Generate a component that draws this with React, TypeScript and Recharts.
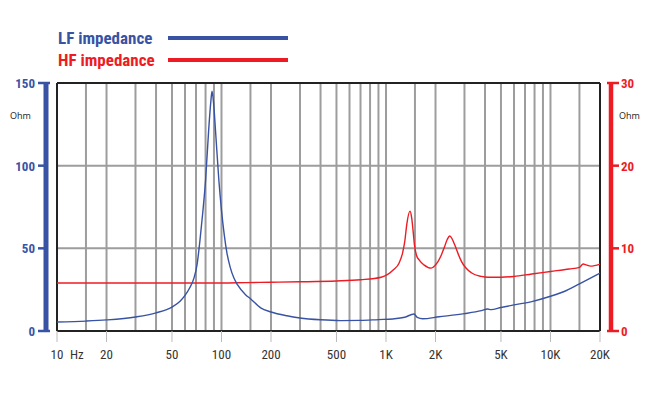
import React from "react";
import {
    ComposedChart,
    Line,
    XAxis,
    YAxis,
    ReferenceLine,
} from "recharts";

const BLUE = "#3953a4";
const RED = "#ed1c24";
const GRID = "#9d9d9d";
const FONT = "'Liberation Sans Narrow', 'Roboto Condensed', Roboto, sans-serif";

// LF impedance, read against the left axis (Ohm)
const lfFreq = [
    10, 15, 20, 30, 40, 50, 56, 60, 64, 68, 71, 74, 77, 80, 83.5, 86, 87.6, 89.5, 92, 96.4, 100,
    104, 108, 113, 119, 125, 140, 150, 173, 200, 250, 300, 400, 530, 700, 900, 1100, 1300, 1480,
    1550, 1670, 2100, 3000, 3800, 4150, 4350, 5000, 6000, 7700, 10000, 12500, 15000, 20000,
];
const lfOhm = [
    5.4, 6.0, 6.7, 8.5, 11, 14.5, 18, 21.5, 26, 32, 40, 55, 72, 91, 121, 138, 145, 138, 121, 91, 73,
    58, 47, 38.5, 32, 28, 22, 19.5, 14, 11.5, 9.2, 7.9, 6.8, 6.3, 6.4, 6.9, 7.3, 8.3, 10.3,
    8.2, 7.4, 8.6, 10.5, 12.3, 13.3, 12.9, 14.2, 15.8, 17.8, 21, 24.5, 28.5, 35,
];

// HF impedance, read against the right axis (Ohm)
const hfFreq = [
    10, 100, 140, 200, 300, 500, 700, 935, 1110, 1200, 1260, 1300, 1340, 1400, 1430, 1460,
    1490, 1530, 1590, 1700, 1880, 1980, 2070, 2170, 2270, 2360, 2440, 2530, 2620, 2750, 2880,
    3300, 3800, 4170, 5000, 6000, 7700, 10000, 13000, 15000, 15800, 16500, 17500, 20000,
];
const hfOhm = [
    5.8, 5.8, 5.85, 5.9, 5.95, 6.05, 6.2, 6.5, 7.4, 8.2, 9.4, 10.8, 13, 14.5, 13.8, 12.2,
    10.4, 9.2, 8.6, 8.0, 7.6, 7.9, 8.4, 9.2, 10.2, 11.1, 11.5, 11.1, 10.4, 9.3, 8.4,
    7.05, 6.6, 6.5, 6.5, 6.6, 6.9, 7.2, 7.5, 7.7, 8.1, 8.0, 7.85, 8.1,
];

const xTicks = [10, 20, 50, 100, 200, 500, 1000, 2000, 5000, 10000, 20000];
const xTickLabels = ["10", "20", "50", "100", "200", "500", "1K", "2K", "5K", "10K", "20K"];
const gridFreqs = [
    15, 20, 30, 40, 50, 60, 70, 80, 90, 100,
    150, 200, 300, 400, 500, 600, 700, 800, 900, 1000,
    1500, 2000, 3000, 4000, 5000, 6000, 7000, 8000, 9000, 10000, 15000,
];
const leftTicks = [0, 50, 100, 150];
const rightTicks = [0, 10, 20, 30];

const lfData = lfFreq.map((f, i) => ({ f, lf: lfOhm[i] }));
const hfData = hfFreq.map((f, i) => ({ f, hf: hfOhm[i] }));

const XTick = ({ x, y, payload }: any) => {
    const i = xTicks.indexOf(payload.value);
    const label = i >= 0 ? xTickLabels[i] : String(payload.value);
    return (
        <g>
            <line x1={x} x2={x} y1={y - 8} y2={y + 3} stroke="#bbb" strokeWidth={1} />
            <text x={x} y={y + 20} textAnchor="middle" fill="#333" fontSize={13} fontFamily={FONT}>
                {label}
            </text>
            {payload.value === 10 ? (
                <text x={x + 13} y={y + 20} fill="#333" fontSize={13} fontFamily={FONT}>
                    Hz
                </text>
            ) : null}
        </g>
    );
};

const LeftTick = ({ y, payload }: any) => (
    <g>
        <line x1={38} x2={46} y1={y} y2={y} stroke={BLUE} strokeWidth={2.5} />
        <text x={35} y={y + 5} textAnchor="end" fill={BLUE} fontSize={13} fontWeight="bold" fontFamily={FONT}>
            {payload.value}
        </text>
    </g>
);

const RightTick = ({ y, payload }: any) => (
    <g>
        <line x1={611} x2={619} y1={y} y2={y} stroke={RED} strokeWidth={2.5} />
        <text x={621} y={y + 5} textAnchor="start" fill={RED} fontSize={13} fontWeight="bold" fontFamily={FONT}>
            {payload.value}
        </text>
    </g>
);

const LeftBar = ({ viewBox }: any) => {
    const top = viewBox.y;
    const bottom = viewBox.y + viewBox.height;
    return (
        <g>
            <line x1={46} x2={46} y1={top - 1} y2={bottom + 1} stroke={BLUE} strokeWidth={5} />
            <line x1={46} x2={50} y1={top} y2={top} stroke={BLUE} strokeWidth={2.5} />
            <line x1={46} x2={50} y1={bottom} y2={bottom} stroke={BLUE} strokeWidth={2.5} />
            <text x={10} y={top + 36} fill="#222" fontSize={9} fontFamily="'Open Sans', sans-serif">
                Ohm
            </text>
        </g>
    );
};

const RightBar = ({ viewBox }: any) => {
    const top = viewBox.y;
    const bottom = viewBox.y + viewBox.height;
    return (
        <g>
            <line x1={611} x2={611} y1={top - 1} y2={bottom + 1} stroke={RED} strokeWidth={4.5} />
            <line x1={607} x2={611} y1={top} y2={top} stroke={RED} strokeWidth={2.5} />
            <line x1={607} x2={611} y1={bottom} y2={bottom} stroke={RED} strokeWidth={2.5} />
            <text x={619} y={top + 36} fill="#222" fontSize={9} fontFamily="'Open Sans', sans-serif">
                Ohm
            </text>
        </g>
    );
};

export default function App() {
    return (
        <div style={{ position: "absolute", left: 0, top: 0, width: 650, height: 399, background: "#fff" }}>
            <div style={{ position: "absolute", left: 58, top: 27, fontFamily: FONT, fontWeight: "bold", fontSize: 17 }}>
                <div style={{ display: "flex", alignItems: "center", height: 22, color: BLUE }}>
                    <span style={{ width: 110 }}>LF impedance</span>
                    <span style={{ width: 120, height: 3.5, background: BLUE }} />
                </div>
                <div style={{ display: "flex", alignItems: "center", height: 22, color: RED }}>
                    <span style={{ width: 110 }}>HF impedance</span>
                    <span style={{ width: 120, height: 3.5, background: RED }} />
                </div>
            </div>
            <ComposedChart
                width={650}
                height={399}
                margin={{ top: 83, right: 0, bottom: 0, left: 0 }}
                style={{ position: "absolute", left: 0, top: 0 }}
            >
                <XAxis
                    dataKey="f"
                    type="number"
                    scale="log"
                    domain={[10, 20000]}
                    ticks={xTicks}
                    allowDuplicatedCategory={false}
                    height={68}
                    axisLine={false}
                    tickLine={false}
                    tick={<XTick />}
                    interval={0}
                />
                <YAxis
                    yAxisId="l"
                    domain={[0, 150]}
                    ticks={leftTicks}
                    width={57}
                    axisLine={false}
                    tickLine={false}
                    tick={<LeftTick />}
                    interval={0}
                    label={(p: any) => <LeftBar {...p} />}
                />
                <YAxis
                    yAxisId="r"
                    orientation="right"
                    domain={[0, 30]}
                    ticks={rightTicks}
                    width={50}
                    axisLine={false}
                    tickLine={false}
                    tick={<RightTick />}
                    interval={0}
                    label={(p: any) => <RightBar {...p} />}
                />
                {gridFreqs.map((g) => (
                    <ReferenceLine key={g} x={g} yAxisId="l" stroke={GRID} strokeWidth={2} />
                ))}
                <ReferenceLine y={50} yAxisId="l" stroke={GRID} strokeWidth={2} />
                <ReferenceLine y={100} yAxisId="l" stroke={GRID} strokeWidth={2} />
                <ReferenceLine y={150} yAxisId="l" stroke="#222" strokeWidth={2} />
                <ReferenceLine y={0} yAxisId="l" stroke="#222" strokeWidth={2} />
                <ReferenceLine x={10} yAxisId="l" stroke="#222" strokeWidth={2} />
                <ReferenceLine x={20000} yAxisId="l" stroke="#222" strokeWidth={2} />
                <Line
                    data={hfData}
                    dataKey="hf"
                    yAxisId="r"
                    type="monotone"
                    stroke={RED}
                    strokeWidth={1.4}
                    dot={false}
                    isAnimationActive={false}
                />
                <Line
                    data={lfData}
                    dataKey="lf"
                    yAxisId="l"
                    type="monotone"
                    stroke={BLUE}
                    strokeWidth={1.4}
                    dot={false}
                    isAnimationActive={false}
                />
            </ComposedChart>
        </div>
    );
}
